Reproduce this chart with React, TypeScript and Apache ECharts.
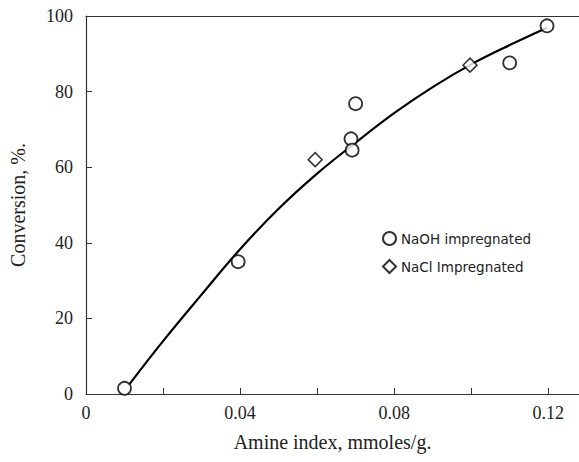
import React, { useEffect, useRef } from "react";
import * as echarts from "echarts";

const naohX = [0.01, 0.0395, 0.07, 0.0688, 0.0691, 0.11, 0.1197];
const naohY = [1.5, 35, 76.8, 67.5, 64.5, 87.6, 97.4];
const naclX = [0.0595, 0.0997];
const naclY = [62, 87];
const curveX = [0.0112, 0.02, 0.03, 0.04, 0.05, 0.06, 0.07, 0.08, 0.09, 0.1, 0.11, 0.1197];
const curveY = [2.5, 14, 26.3, 38.3, 49, 58.3, 66.5, 74.3, 81.2, 87.2, 92.3, 96.9];
const xTickLabels = ["0", "0.04", "0.08", "0.12"];
const yTickLabels = ["0", "20", "40", "60", "80", "100"];
const seriesNames = ["NaOH impregnated", "NaCl Impregnated"];

const zip = (xs: number[], ys: number[]) => xs.map((x, i) => [x, ys[i]]);

export default function App() {
  const ref = useRef<HTMLDivElement>(null);
  useEffect(() => {
    if (!ref.current) return;
    const chart = echarts.init(ref.current, null, { renderer: "svg" });
    const serif = "Liberation Serif";
    chart.setOption({
      animation: false,
      backgroundColor: "#ffffff",
      textStyle: { fontFamily: serif },
      grid: { left: 86, top: 16, right: 0, bottom: 68 },
      legend: {
        data: seriesNames.map((n) => ({ name: n })),
        orient: "vertical",
        left: 377,
        top: 226,
        itemGap: 13,
        itemWidth: 13,
        itemHeight: 13,
        textStyle: { fontFamily: "DejaVu Sans", fontSize: 13.5, color: "#222" },
      },
      xAxis: [
        {
          type: "value",
          min: 0,
          max: 0.128,
          interval: 0.02,
          axisLine: { show: true, lineStyle: { color: "#333", width: 1.2 } },
          axisTick: { show: true, inside: true, length: 6, lineStyle: { color: "#333" } },
          splitLine: { show: false },
          axisLabel: {
            showMaxLabel: false,
            margin: 10,
            color: "#222",
            formatter: (v: number) => {
              const k = Math.round(v / 0.04);
              return Math.abs(v - k * 0.04) < 1e-6 && k < xTickLabels.length ? "{s|" + xTickLabels[k] + "}" : "";
            },
            rich: { s: { fontFamily: serif, fontSize: 18, color: "#222" } },
          },
          name: "Amine index, mmoles/g.",
          nameLocation: "middle",
          nameGap: 38,
          nameTextStyle: { fontFamily: serif, fontSize: 20, color: "#222" },
        },
        {
          type: "value",
          position: "top",
          min: 0,
          max: 0.128,
          axisLine: { show: true, lineStyle: { color: "#333", width: 1.2 } },
          axisTick: { show: false },
          axisLabel: { show: false },
          splitLine: { show: false },
        },
      ],
      yAxis: {
        type: "value",
        min: 0,
        max: 100,
        interval: 20,
        axisLine: { show: true, lineStyle: { color: "#333", width: 1.2 } },
        axisTick: { show: true, inside: true, length: 6, lineStyle: { color: "#333" } },
        splitLine: { show: false },
        axisLabel: {
          margin: 13,
          color: "#222",
          formatter: (v: number) => "{s|" + (yTickLabels[Math.round(v / 20)] ?? "") + "}",
          rich: { s: { fontFamily: serif, fontSize: 18, color: "#222" } },
        },
        name: "Conversion, %.",
        nameLocation: "middle",
        nameGap: 58,
        nameTextStyle: { fontFamily: serif, fontSize: 20, color: "#222" },
      },
      series: [
        {
          name: "curve",
          type: "line",
          data: zip(curveX, curveY),
          smooth: 0.4,
          showSymbol: false,
          lineStyle: { color: "#000", width: 2.2 },
          z: 1,
        },
        {
          name: seriesNames[0],
          type: "scatter",
          data: zip(naohX, naohY),
          symbol: "circle",
          symbolSize: 13,
          itemStyle: { color: "#fff", borderColor: "#000", borderWidth: 1.8 },
          z: 3,
        },
        {
          name: seriesNames[1],
          type: "scatter",
          data: zip(naclX, naclY),
          symbol: "diamond",
          symbolSize: 14,
          itemStyle: { color: "#fff", borderColor: "#000", borderWidth: 1.5 },
          z: 3,
        },
      ],
    });
    return () => chart.dispose();
  }, []);
  return <div ref={ref} style={{ width: 579, height: 462, position: "absolute", left: 0, top: 0 }} />;
}
